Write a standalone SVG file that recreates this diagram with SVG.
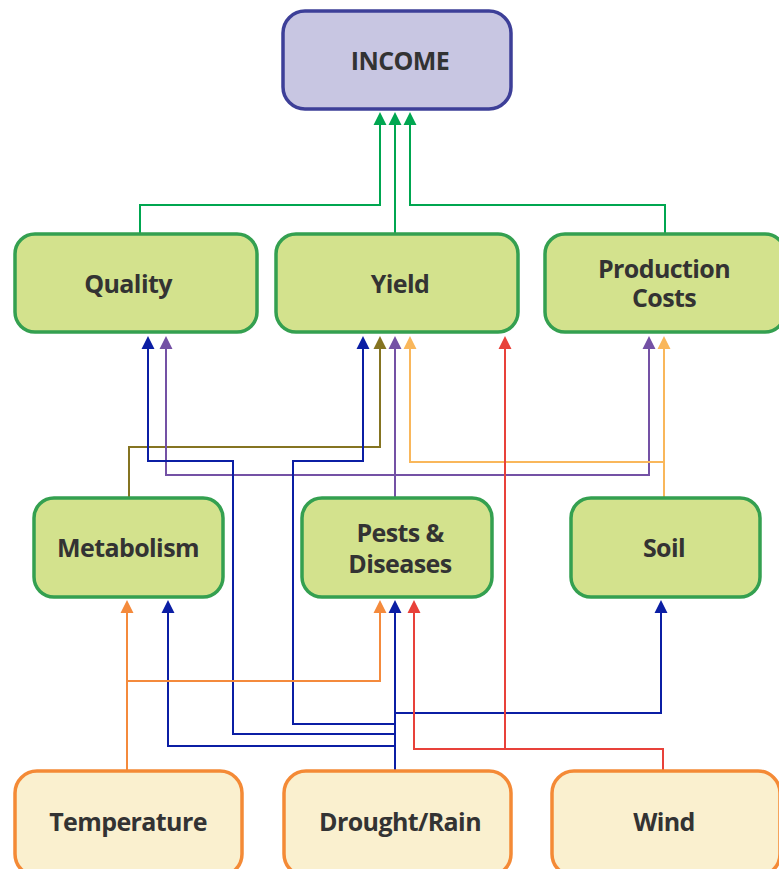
<svg xmlns="http://www.w3.org/2000/svg" width="779" height="869" viewBox="0 0 779 869">
<style>
.g rect{fill:#d3e28d;stroke:#34a050;stroke-width:3.5}
.o rect{fill:#faf0cf;stroke:#f48a36;stroke-width:3.5}
.top rect{fill:#c8c6e2;stroke:#3d3f98;stroke-width:3.5}
text{font-family:"Open Sans","Liberation Sans",sans-serif;font-weight:700;font-size:25px;fill:#333333;text-anchor:middle;letter-spacing:-0.6px}
.ln{fill:none;stroke-width:2}
</style>
<g id="connectors">
<path class="ln" d="M140 234V205H380V122" stroke="#00a650"/>
<path class="ln" d="M395 234V122" stroke="#00a650"/>
<path class="ln" d="M665 234V205H410V122" stroke="#00a650"/>
<path d="M373.5 125L380 112L386.5 125Z M388.5 125L395 112L401.5 125Z M403.5 125L410 112L416.5 125Z" fill="#00a650"/>
<path class="ln" d="M129 498V447H380V346" stroke="#857421"/>
<path d="M373.5 349L380 336L386.5 349Z" fill="#857421"/>
<path class="ln" d="M395 498V346" stroke="#7451a5"/>
<path class="ln" d="M166 346V475H649V346" stroke="#7451a5"/>
<path d="M388.5 349L395 336L401.5 349Z M159.5 349L166 336L172.5 349Z M642.5 349L649 336L655.5 349Z" fill="#7451a5"/>
<path class="ln" d="M664 498V346" stroke="#f9b75b"/>
<path class="ln" d="M664 462H410V346" stroke="#f9b75b"/>
<path d="M657.5 349L664 336L670.5 349Z M403.5 349L410 336L416.5 349Z" fill="#f9b75b"/>
<path class="ln" d="M395 770V610" stroke="#0b1ea4"/>
<path class="ln" d="M395 713H661V610" stroke="#0b1ea4"/>
<path class="ln" d="M395 724H293V461H363V346" stroke="#0b1ea4"/>
<path class="ln" d="M395 734H233V461H148V346" stroke="#0b1ea4"/>
<path class="ln" d="M395 746H168V610" stroke="#0b1ea4"/>
<path d="M388.5 613L395 600L401.5 613Z M654.5 613L661 600L667.5 613Z M356.5 349L363 336L369.5 349Z M141.5 349L148 336L154.5 349Z M161.5 613L168 600L174.5 613Z" fill="#0b1ea4"/>
<path class="ln" d="M663 770V749H414V610" stroke="#e8413a"/>
<path class="ln" d="M505 749V346" stroke="#e8413a"/>
<path d="M407.5 613L414 600L420.5 613Z M498.5 349L505 336L511.5 349Z" fill="#e8413a"/>
<path class="ln" d="M127 770V610" stroke="#f48a3c"/>
<path class="ln" d="M127 681H380V610" stroke="#f48a3c"/>
<path d="M120.5 613L127 600L133.5 613Z M373.5 613L380 600L386.5 613Z" fill="#f48a3c"/>
</g>
<g id="income" class="top"><rect x="283" y="11" width="228" height="98" rx="22"/><text x="400" y="70">INCOME</text></g>
<g id="quality" class="g"><rect x="15" y="234" width="242" height="98" rx="20"/><text x="128" y="293">Quality</text></g>
<g id="yield" class="g"><rect x="276" y="234" width="242" height="98" rx="20"/><text x="400" y="293">Yield</text></g>
<g id="production-costs" class="g"><rect x="545" y="234" width="240" height="98" rx="20"/><text x="664" y="278">Production</text><text x="664" y="307">Costs</text></g>
<g id="metabolism" class="g"><rect x="34" y="498" width="189" height="99" rx="20"/><text x="128" y="557">Metabolism</text></g>
<g id="pests-diseases" class="g"><rect x="302" y="498" width="190" height="99" rx="20"/><text x="400" y="542">Pests &amp;</text><text x="400" y="573">Diseases</text></g>
<g id="soil" class="g"><rect x="571" y="498" width="189" height="99" rx="20"/><text x="664" y="557">Soil</text></g>
<g id="temperature" class="o"><rect x="15" y="771" width="227" height="105" rx="22"/><text x="128" y="831">Temperature</text></g>
<g id="drought-rain" class="o"><rect x="284" y="771" width="227" height="105" rx="22"/><text x="400" y="831">Drought/Rain</text></g>
<g id="wind" class="o"><rect x="552" y="771" width="228" height="105" rx="22"/><text x="664" y="831">Wind</text></g>
</svg>
